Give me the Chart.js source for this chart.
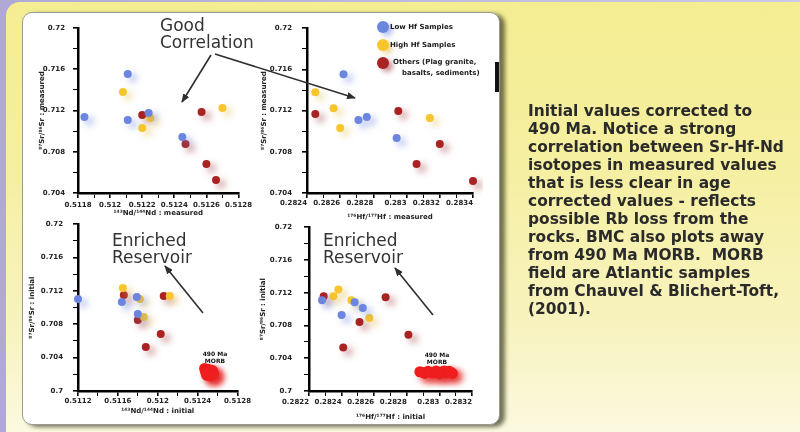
<!DOCTYPE html>
<html><head><meta charset="utf-8">
<script src="https://cdn.jsdelivr.net/npm/chart.js@4"></script>
<style>
html,body{margin:0;padding:0;}
body{width:800px;height:432px;overflow:hidden;position:relative;background:linear-gradient(to right,#b0a9d6,#cdc8e8);font-family:'DejaVu Sans',sans-serif;}
#bgY{position:absolute;left:6px;top:2px;width:800px;height:440px;border-top-left-radius:14px;background:linear-gradient(to bottom,#f4ed92 0%,#f5efa0 35%,#f8f3c0 75%,#fcfae2 100%);}
#panel{position:absolute;left:22px;top:12px;width:476px;height:411px;background:#fff;border:1px solid #9a9a90;border-radius:10px;box-shadow:5px 2px 4px rgba(70,70,45,0.75);}
#bar{position:absolute;left:495px;top:62px;width:4px;height:30px;background:#111;}
canvas{position:absolute;}
svg{position:absolute;left:0;top:0;}
.ann{position:absolute;font-family:'DejaVu Sans',sans-serif;font-size:17px;line-height:16.5px;color:#333;white-space:nowrap;}
.lg{position:absolute;font:bold 7px 'DejaVu Sans',sans-serif;line-height:8px;color:#1a1a1a;white-space:nowrap;}
.dot{position:absolute;width:12px;height:12px;border-radius:50%;}
.ml{position:absolute;font:bold 6px 'DejaVu Sans',sans-serif;line-height:7px;color:#111;text-align:center;width:30px;}
#note{position:absolute;left:528px;top:102px;font-weight:bold;font-family:'DejaVu Sans',sans-serif;color:#2a2a2a;line-height:18px;white-space:nowrap;}
</style></head><body>
<div id="bgY"></div>
<div id="panel"></div>
<div id="bar"></div>
<canvas id="cTL" width="217" height="203" style="left:38px;top:14px"></canvas>
<canvas id="cTR" width="223" height="207" style="left:260px;top:14px"></canvas>
<canvas id="cBL" width="224" height="205" style="left:28px;top:210px"></canvas>
<canvas id="cBR" width="223" height="210" style="left:259px;top:211px"></canvas>
<svg width="800" height="432">
<defs><marker id="ah" markerWidth="9" markerHeight="7" refX="8" refY="3.5" orient="auto" markerUnits="userSpaceOnUse"><path d="M0,0 L9,3.5 L0,7 z" fill="#2e2e2e"/></marker></defs>
<line x1="211" y1="55" x2="182" y2="102" stroke="#2e2e2e" stroke-width="1.6" marker-end="url(#ah)"/>
<line x1="215" y1="54" x2="355" y2="98" stroke="#2e2e2e" stroke-width="1.6" marker-end="url(#ah)"/>
<line x1="203" y1="313" x2="165" y2="266" stroke="#2e2e2e" stroke-width="1.6" marker-end="url(#ah)"/>
<line x1="433" y1="315" x2="395" y2="268" stroke="#2e2e2e" stroke-width="1.6" marker-end="url(#ah)"/>
</svg>
<div class="ann" style="left:160px;top:17px">Good<br>Correlation</div>
<div class="ann" style="left:112px;top:232px">Enriched<br>Reservoir</div>
<div class="ann" style="left:323px;top:232px">Enriched<br>Reservoir</div>
<div class="dot" style="left:377px;top:21px;background:#6c86df;box-shadow:4px 3px 5px rgba(108,134,223,0.5)"></div>
<div class="dot" style="left:377px;top:39px;background:#f8c62c;box-shadow:4px 3px 5px rgba(220,180,60,0.5)"></div>
<div class="dot" style="left:377px;top:57px;background:#a92323;box-shadow:4px 3px 5px rgba(150,40,40,0.5)"></div>
<div class="lg" style="left:390px;top:23px">Low Hf Samples</div>
<div class="lg" style="left:390px;top:41px">High Hf Samples</div>
<div class="lg" style="left:393px;top:58px">Others (Plag granite,</div>
<div class="lg" style="left:402px;top:69px">basalts, sediments)</div>
<div class="ml" style="left:200px;top:350px">490 Ma<br>MORB</div>
<div class="ml" style="left:422px;top:351px">490 Ma<br>MORB</div>
<div id="note"></div>
<script>
// ---- data ----
const noteLines = ["Initial values corrected to","490 Ma. Notice a strong","correlation between Sr-Hf-Nd","isotopes in measured values","that is less clear in age","corrected values - reflects","possible Rb loss from the","rocks. BMC also plots away","from 490 Ma MORB.  MORB","field are Atlantic samples","from Chauvel & Blichert-Toft,","(2001)."];
const seriesNames = ["Low Hf Samples","High Hf Samples","Others (Plag granite, basalts, sediments)","490 Ma MORB"];

// top-left: Nd measured vs Sr measured
const tlLowX = [0.51184,0.51211,0.51211,0.51224,0.51245];
const tlLowY = [0.71137,0.71554,0.71108,0.71176,0.70943];
const tlHighX = [0.51208,0.51225,0.51220,0.51270];
const tlHighY = [0.71379,0.71127,0.71030,0.71224];
const tlOthX = [0.51220,0.51247,0.51257,0.51260,0.51266];
const tlOthY = [0.71156,0.70875,0.71185,0.70681,0.70526];

// top-right: Hf measured vs Sr measured
const trLowX = [0.28262,0.28271,0.28276,0.28294];
const trLowY = [0.71554,0.71108,0.71137,0.70933];
const trHighX = [0.28245,0.28256,0.28260,0.28314];
const trHighY = [0.71379,0.71224,0.71030,0.71127];
const trOthX = [0.28245,0.28295,0.28320,0.28306,0.28340];
const trOthY = [0.71166,0.71195,0.70875,0.70681,0.70516];

// bottom-left: Nd initial vs Sr initial
const blLowX = [0.51120,0.51164,0.51179,0.51180];
const blLowY = [0.71102,0.71066,0.71126,0.70922];
const blHighX = [0.51165,0.51182,0.51186,0.51212];
const blHighY = [0.71234,0.71102,0.70886,0.71138];
const blOthX = [0.51166,0.51180,0.51206,0.51203,0.51188];
const blOthY = [0.71150,0.70850,0.71138,0.70683,0.70527];
const blMorbX = [0.51247,0.51250,0.51252,0.51249,0.51254,0.51251,0.51256,0.51248,0.51253,0.51255,0.51250];
const blMorbY = [0.70270,0.70240,0.70210,0.70190,0.70230,0.70260,0.70200,0.70225,0.70180,0.70245,0.70205];

// bottom-right: Hf initial vs Sr initial
const brLowX = [0.28228,0.28248,0.28240,0.28253];
const brLowY = [0.71108,0.71084,0.70928,0.71012];
const brHighX = [0.28235,0.28238,0.28246,0.28257];
const brHighY = [0.71157,0.71240,0.71108,0.70892];
const brOthX = [0.28229,0.28251,0.28267,0.28281,0.28241];
const brOthY = [0.71157,0.70843,0.71145,0.70687,0.70530];
const brMorbX = [0.28288,0.28291,0.28293,0.28296,0.28298,0.28300,0.28302,0.28304,0.28306,0.28308,0.28290,0.28295,0.28299,0.28303,0.28307];
const brMorbY = [0.70235,0.70215,0.70240,0.70220,0.70245,0.70210,0.70235,0.70220,0.70240,0.70215,0.70225,0.70230,0.70225,0.70245,0.70230];

// axis tick settings
const tlXTicks = {min:0.5118, max:0.5128, step:0.0001, major:0.0002};
const trXTicks = {min:0.2824, max:0.2834, step:0.0001, major:0.0002};
const blXTicks = {min:0.5112, max:0.5128, step:0.0002, major:0.0004};
const brXTicks = {min:0.2822, max:0.2832, step:0.0001, major:0.0002};
const topYTicks = {min:0.704, max:0.72, step:0.002, major:0.004};
const botYTicks = {min:0.70, max:0.72, step:0.002, major:0.004};

// ---- rendering ----
const note = document.getElementById('note');
(function(){
  const c = document.createElement('canvas').getContext('2d');
  c.font = "bold 14px 'DejaVu Sans'";
  const w = c.measureText(noteLines[2]).width;
  const fs = 14 * 256 / w;
  note.style.fontSize = fs.toFixed(2) + 'px';
  note.innerHTML = noteLines.map(l => '<div>' + l.replace(/&/g,'&amp;').replace(/  /g,' &nbsp;') + '</div>').join('');
})();

const COLORS = ['#6c86df','#f8c62c','#a92323','#f01e1e'];
const SHADOWS = ['rgba(108,134,223,0.55)','rgba(225,185,60,0.5)','rgba(150,40,40,0.5)','rgba(230,40,40,0.55)'];

const dotShadow = {
  id:'dotShadow',
  beforeDatasetDraw(chart,args){
    const ctx = chart.ctx; ctx.save();
    ctx.shadowColor = SHADOWS[chart.data.datasets[args.index].kind];
    ctx.shadowBlur = 7; ctx.shadowOffsetX = 5; ctx.shadowOffsetY = 4;
  },
  afterDatasetDraw(chart){ chart.ctx.restore(); }
};

function pts(xs,ys){ return xs.map((x,i)=>({x:x,y:ys[i]})); }
function fmt(t){
  return function(v){
    const k = (v - t.min) / t.major;
    return Math.abs(k - Math.round(k)) < 1e-4 ? String(+v.toFixed(4)) : '';
  };
}
function isMajor(t,v){ const k=(v-t.min)/t.major; return Math.abs(k-Math.round(k))<1e-4; }

const tickFont = {family:"'DejaVu Sans'", size:7, weight:'bold'};
const titleFont = {family:"'DejaVu Sans'", size:7, weight:'bold'};

function makeChart(id, g, xt, yt, xTitle, yTitle, xAlign, xPad, yPad, series){
  const cv = document.getElementById(id);
  const cx = parseFloat(cv.style.left), cy = parseFloat(cv.style.top);
  const cw = cv.width, ch = cv.height;
  const datasets = series.map(s => ({
    label: seriesNames[s.kind], kind: s.kind, data: pts(s.x, s.y),
    backgroundColor: COLORS[s.kind], borderWidth: 0,
    pointRadius: s.kind === 3 ? 5.5 : 4, clip: false
  }));
  const axis = (t, title, align, pad, isX) => ({
    type:'linear', min:t.min, max:t.max,
    afterFit: isX ? (s)=>{ s.height = (cy + ch) - g.bottom; } : (s)=>{ s.width = g.left - cx; },
    ticks:{stepSize:t.step, autoSkip:false, maxRotation:0, minRotation:0, align:align, padding:pad,
      font:tickFont, color:'#222', callback: fmt(t)},
    grid:{display:true, drawOnChartArea:false, drawTicks:true, tickLength:5, color:'#000',
      lineWidth:(c)=> (c.tick && isMajor(t, c.tick.value)) ? 1.6 : 1},
    border:{display:true, color:'#000', width:2.5},
    title:{display:true, text:title, font:titleFont, color:'#222', padding:0}
  });
  return new Chart(cv, {
    type:'scatter',
    data:{datasets},
    options:{
      responsive:false, animation:false, events:[],
      layout:{padding:{left:0, top:g.top - cy, right:(cx + cw) - g.right, bottom:0}},
      plugins:{legend:{display:false}, tooltip:{enabled:false}},
      scales:{ x: axis(xt, xTitle, xAlign, xPad, true), y: axis(yt, yTitle, 'center', yPad, false) }
    },
    plugins:[dotShadow]
  });
}

makeChart('cTL', {left:78, top:28, right:245, bottom:193}, tlXTicks, topYTicks,
  '¹⁴³Nd/¹⁴⁴Nd : measured', '⁸⁷Sr/⁸⁶Sr : measured', 'center', 3, 8,
  [{kind:0,x:tlLowX,y:tlLowY},{kind:1,x:tlHighX,y:tlHighY},{kind:2,x:tlOthX,y:tlOthY}]);
makeChart('cTR', {left:307, top:28, right:473, bottom:193}, trXTicks, topYTicks,
  '¹⁷⁶Hf/¹⁷⁷Hf : measured', '⁸⁷Sr/⁸⁶Sr : measured', 'end', 1, 10,
  [{kind:0,x:trLowX,y:trLowY},{kind:1,x:trHighX,y:trHighY},{kind:2,x:trOthX,y:trOthY}]);
makeChart('cBL', {left:78, top:224, right:242, bottom:391}, blXTicks, botYTicks,
  '¹⁴³Nd/¹⁴⁴Nd : initial', '⁸⁷Sr/⁸⁶Sr : initial', 'center', 1, 10,
  [{kind:0,x:blLowX,y:blLowY},{kind:1,x:blHighX,y:blHighY},{kind:2,x:blOthX,y:blOthY},{kind:3,x:blMorbX,y:blMorbY}]);
makeChart('cBR', {left:309, top:225, right:472, bottom:391}, brXTicks, botYTicks,
  '¹⁷⁶Hf/¹⁷⁷Hf : initial', '⁸⁷Sr/⁸⁶Sr : initial', 'end', 2, 12,
  [{kind:0,x:brLowX,y:brLowY},{kind:1,x:brHighX,y:brHighY},{kind:2,x:brOthX,y:brOthY},{kind:3,x:brMorbX,y:brMorbY}]);
</script>
</body></html>
